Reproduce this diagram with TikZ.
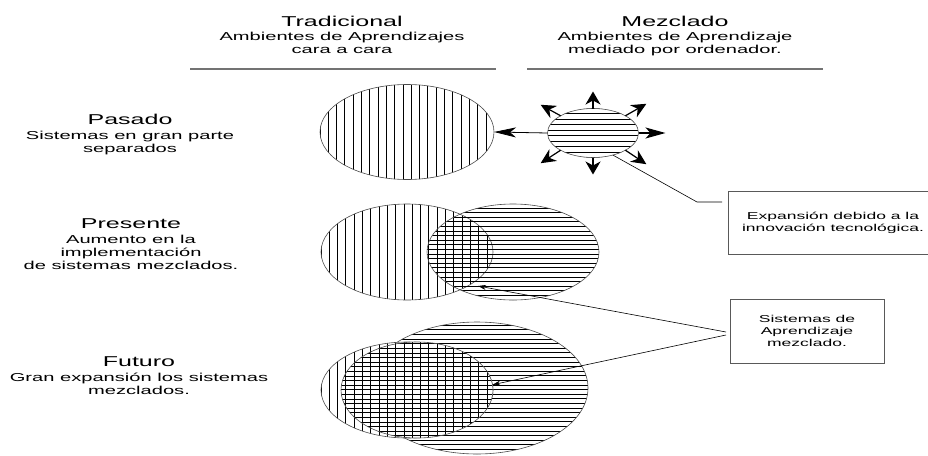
\documentclass[tikz,border=0pt]{standalone}
\usepackage{fontspec}
\setmainfont[FakeStretch=1.75]{Liberation Sans}
\usetikzlibrary{shapes.geometric,arrows.meta}
\definecolor{outl}{gray}{0.3}
\definecolor{boxc}{gray}{0.35}
\definecolor{headc}{gray}{0.45}
\tikzset{
  hatchline/.style={black,line width=0.85pt},
  ell/.style={ellipse, draw=outl, line width=0.6pt, inner sep=0pt, outer sep=0pt},
  vhatch/.style n args={2}{path picture={
     \foreach \k in {0,...,30}{
       \draw[hatchline] ([xshift=#2+\k*#1]path picture bounding box.north west) -- ([xshift=#2+\k*#1]path picture bounding box.south west);}}},
  hhatch/.style n args={2}{path picture={
     \foreach \k in {0,...,32}{
       \draw[hatchline] ([yshift=#2+\k*#1]path picture bounding box.south west) -- ([yshift=#2+\k*#1]path picture bounding box.south east);}}},
  chatch/.style n args={4}{path picture={
     \foreach \k in {0,...,30}{
       \draw[hatchline] ([xshift=#2+\k*#1]path picture bounding box.north west) -- ([xshift=#2+\k*#1]path picture bounding box.south west);}
     \foreach \k in {0,...,32}{
       \draw[hatchline] ([yshift=#4+\k*#3]path picture bounding box.south west) -- ([yshift=#4+\k*#3]path picture bounding box.south east);}}},
  ttl/.style={font=\fontsize{14.3}{16}\selectfont, inner sep=0pt, anchor=base},
  sub/.style={font=\fontsize{11.5}{13}\selectfont, inner sep=0pt, anchor=north, align=center},
  box/.style={draw=boxc, line width=0.8pt, inner sep=0pt, align=center, font=\fontsize{10}{12}\selectfont},
  headline/.style={draw=headc, line width=1.1pt},
  sunh/.style={-{Stealth[length=20pt,width=11pt,inset=5pt]}, line width=1.2pt},
  sunv/.style={-{Stealth[length=13pt,width=15pt,inset=4pt]}, line width=1.2pt},
  sund/.style={-{Stealth[length=15pt,width=14pt,inset=5pt]}, line width=1.2pt},
  bigarrow/.style={-{Stealth[length=22pt,width=10pt,inset=6pt]}, line width=0.8pt},
  leader/.style={line width=0.6pt, black},
  leadarrow/.style={-{Stealth[length=8pt,width=5pt]}, line width=0.6pt, black},
}
\begin{document}
\begin{tikzpicture}[x=1pt,y=-1pt]
\path[use as bounding box, clip] (0,0) rectangle (928,455);
\fill[white] (0,0) rectangle (928,455);

% headers
\node[ttl] (tTrad) at (342,27) {Tradicional};
\node[sub] (sTrad) at (342,31.6) {Ambientes de Aprendizajes\\cara a cara};
\node[ttl] (tMez) at (675,27) {Mezclado};
\node[sub] (sMez) at (675,31.6) {Ambientes de Aprendizaje\\mediado por ordenador.};
\coordinate (h1a) at (190,69); \coordinate (h1b) at (496,69);
\coordinate (h2a) at (527,69); \coordinate (h2b) at (823,69);
\draw[headline] (h1a) -- (h1b);
\draw[headline] (h2a) -- (h2b);

% row labels
\node[ttl] (tPas) at (130,124) {Pasado};
\node[sub] (sPas) at (130,130.6) {Sistemas en gran parte\\separados};
\node[ttl] (tPre) at (131,228.5) {Presente};
\node[sub] (sPre) at (131,235) {Aumento en la\\implementación\\de sistemas mezclados.};
\node[ttl] (tFut) at (139,366) {Futuro};
\node[sub] (sFut) at (139,372.6) {Gran expansión los sistemas\\mezclados.};

% Pasado
\node[ell, minimum width=174pt, minimum height=95pt, vhatch={8.3pt}{0pt}] (trad1) at (407,132) {};
\node[ell, minimum width=91pt, minimum height=49pt, hhatch={5.5pt}{0pt}] (sun) at (593,133) {};
\draw[bigarrow] (sun.west) -- (trad1.east);
\draw[sunv] (sun.90) -- ++(0,-17);
\draw[sunv] (sun.270) -- ++(0,17);
\draw[sunh] (sun.east) -- ++(27,0);
\draw[sund] (sun.28) -- ++(21,-12);
\draw[sund] (sun.152) -- ++(-20,-11);
\draw[sund] (sun.208) -- ++(-20,13);
\draw[sund] (sun.332) -- ++(21,14);

% Presente
\node[ell, minimum width=172pt, minimum height=96pt, vhatch={8.3pt}{0pt}] (trad2) at (407,252) {};
\node[ell, minimum width=172pt, minimum height=96pt, hhatch={4.6pt}{0pt}] (mix2) at (513,252) {};

% Futuro
\node[ell, minimum width=222pt, minimum height=132pt, hhatch={4.6pt}{0pt}] (big3) at (477,388) {};
\node[ell, fill=white, minimum width=172pt, minimum height=96pt, vhatch={8.3pt}{0pt}] (trad3) at (407,390) {};
\node[ell, fill=white, minimum width=152pt, minimum height=96pt, chatch={8.3pt}{4.9pt}{4.6pt}{2.2pt}] (mix3) at (417,390) {};

% boxes
\node[box, minimum width=210pt, minimum height=63pt] (box1) at (833,222.5) {Expansión debido a la\\innovación tecnológica.};
\node[box, minimum width=154pt, minimum height=64pt] (box2) at (807,331) {Sistemas de\\Aprendizaje\\mezclado.};

% leaders
\coordinate (k1) at (697,202);
\coordinate (k1e) at (722,202);
\draw[leader] (sun.312) -- (k1) -- (k1e);
\coordinate (b2a) at (726,332);
\coordinate (b2b) at (726,335);
\coordinate (x2) at (478,286);
\draw[leadarrow] (b2a) -- (x2);
\draw[leadarrow] (b2b) -- (mix3.4);
\end{tikzpicture}
\end{document}
